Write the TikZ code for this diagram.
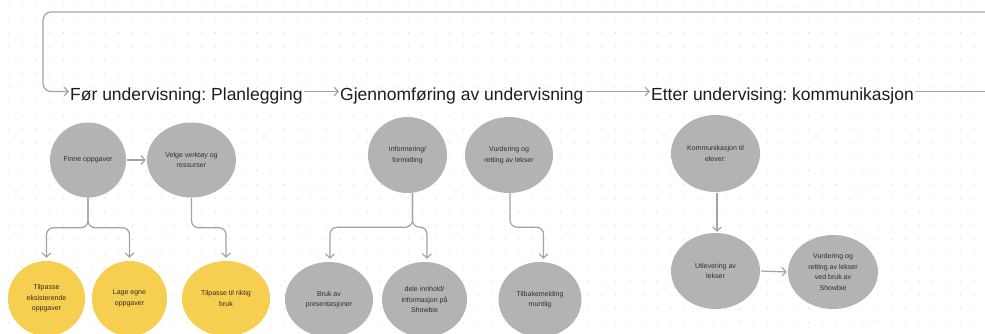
\documentclass[tikz,border=0pt]{standalone}
\usepackage{fontspec}
\setmainfont{Liberation Sans}
\usetikzlibrary{arrows.meta,shapes.geometric}
\frenchspacing

\definecolor{nodegray}{HTML}{B3B3B3}
\definecolor{nodeyellow}{HTML}{F6CE50}
\definecolor{wire}{HTML}{A3A3A3}
\definecolor{dotgray}{HTML}{DCDCDC}
\definecolor{inktext}{HTML}{1E1E1E}
\definecolor{smalltext}{HTML}{2E2E2E}

\tikzset{
  bubble/.style={ellipse, inner sep=0pt, draw=none, align=center,
    text=smalltext, font=\fontsize{7}{10.5}\selectfont},
  greybubble/.style={bubble, fill=nodegray},
  yellowbubble/.style={bubble, fill=nodeyellow},
  phase/.style={anchor=base west, inner sep=0pt, text=inktext,
    font=\fontsize{17.5}{20}\selectfont},
  wireline/.style={draw=wire, line width=1.2pt},
  link/.style={wireline, -{Straight Barb[length=4pt,width=8.5pt,line width=1.2pt]}},
  branch/.style={link, rounded corners=7pt},
}

\begin{document}
\begin{tikzpicture}[x=1pt, y=-1pt]
\useasboundingbox (0,0) rectangle (985,333);
\fill[white] (0,0) rectangle (985,333);

% dotted canvas grid
\foreach \i in {0,...,71}
  \foreach \j in {0,...,23}
    \fill[dotgray] (8.3+13.8*\i, 5+13.8*\j) circle (0.7pt);

% phase headings
\node[phase] (plan) at (70,100) {Før undervisning: Planlegging};
\node[phase] (gjen) at (340,100) {Gjennomføring av undervisning};
\node[phase] (etter) at (651,100) {Etter undervising: kommunikasjon};

% loop coming back from the right edge
\coordinate (loopin) at (985,12);
\coordinate (loopcorner) at (43,12);
\coordinate (loopdown) at (43,91.5);
\coordinate (loopout) at (985,91.5);
\draw[link, rounded corners=8pt, shorten >=1pt] (loopin) -- (loopcorner) -- (loopdown) -- (plan.west |- loopdown);
\draw[link, shorten <=1pt, shorten >=1pt] (plan.east |- loopdown) -- (gjen.west |- loopdown);
\draw[link, shorten <=2pt, shorten >=1pt] (gjen.east |- loopdown) -- (etter.west |- loopdown);
\draw[wireline, shorten <=1pt] (etter.east |- loopdown) -- (loopout);

% planning column
\node[greybubble, minimum width=76pt, minimum height=75pt] (finne) at (88,160) {Finne oppgaver};
\node[greybubble, minimum width=89pt, minimum height=75pt] (velge) at (191.5,160) {Velge verktøy og\\ressurser};
\node[yellowbubble, minimum width=77pt, minimum height=75pt] (tilpA) at (46.5,298.5) {Tilpasse\\eksisterende\\oppgaver};
\node[yellowbubble, minimum width=75pt, minimum height=75pt] (lage) at (129.5,298.5) {Lage egne\\oppgaver};
\node[yellowbubble, minimum width=88pt, minimum height=75pt] (tilpB) at (226,298.5) {Tilpasse til riktig\\bruk};

\draw[link, shorten <=1pt, shorten >=1pt] (finne.east) -- (velge.west);
\draw[branch, shorten >=3pt] (finne.south) -- ++(0,30) -| (tilpA.north);
\draw[branch, shorten >=3pt] (finne.south) -- ++(0,30) -| (lage.north);
\draw[branch, shorten >=3pt] (velge.south) -- ++(0,30) -| (tilpB.north);

% teaching column
\node[greybubble, minimum width=79pt, minimum height=76pt] (info) at (407.5,155) {Informering/\\formidling};
\node[greybubble, minimum width=88pt, minimum height=76pt] (vurd) at (509,155) {Vurdering og\\retting av lekser};
\node[greybubble, minimum width=88pt, minimum height=75pt] (bruk) at (329,299.5) {Bruk av\\presentasjoner};
\node[greybubble, minimum width=85pt, minimum height=75pt] (dele) at (424.5,299.5) {dele innhold/\\informasjon på\\Showbie};
\node[greybubble, minimum width=83pt, minimum height=75pt] (tilbake) at (540,299.5) {Tilbakemelding\\muntlig};

\draw[branch, shorten >=3pt] ([xshift=5pt]info.south) -- ++(0,34) -| ([xshift=1pt]bruk.north);
\draw[branch, shorten >=3pt] ([xshift=5pt]info.south) -- ++(0,34) -| ([xshift=2.5pt]dele.north);
\draw[branch, shorten >=3pt] ([xshift=1pt]vurd.south) -- ++(0,34) -| ([xshift=3.5pt]tilbake.north);

% communication column
\node[greybubble, minimum width=89pt, minimum height=77pt] (komm) at (715.5,153.5) {Kommunikasjon til\\elever:};
\node[greybubble, minimum width=89pt, minimum height=76pt] (utlev) at (715.5,271) {Utlevering av\\lekser};
\node[greybubble, minimum width=90pt, minimum height=74pt] (vurdB) at (833,272) {Vurdering og\\retting av lekser\\ved bruk av\\Showbie};

\draw[link, shorten <=1pt, shorten >=1pt] ([xshift=1.5pt]komm.south) -- ([xshift=1.5pt]utlev.north);
\draw[link, shorten <=1pt, shorten >=1pt] (utlev.east) -- (vurdB.west);
\end{tikzpicture}
\end{document}
